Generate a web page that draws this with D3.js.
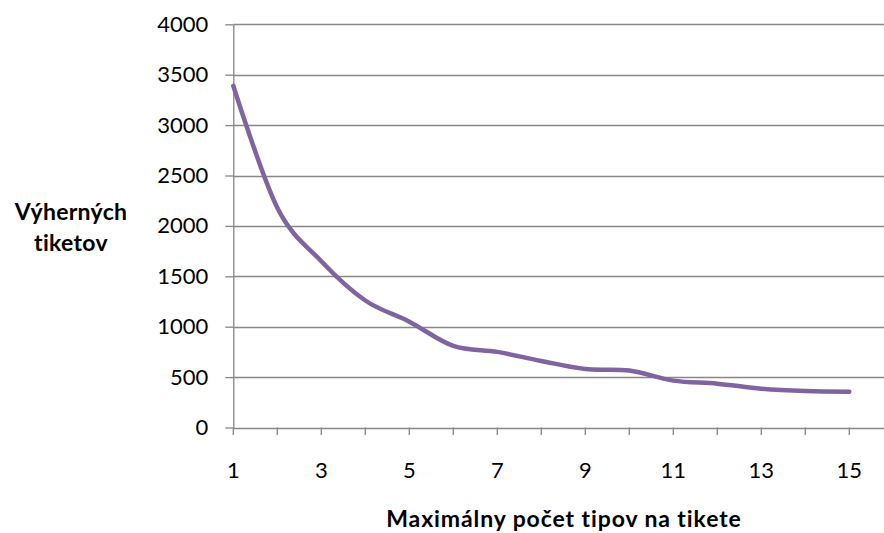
<!DOCTYPE html>
<html>
<head>
<meta charset="utf-8">
<script src="https://cdn.jsdelivr.net/npm/d3@7"></script>
<style>
  html, body { margin: 0; padding: 0; background: #fff; }
  svg { display: block; font-family: Lato, "Open Sans", sans-serif; }
</style>
</head>
<body>
<svg id="chart" width="884" height="533"></svg>
<script>
// Maximum tips per ticket (x) and number of winning tickets (y)
const tips = [1, 2, 3, 4, 5, 6, 7, 8, 9, 10, 11, 12, 13, 14, 15];
const winningTickets = [3390, 2180, 1650, 1260, 1050, 810, 750, 660, 580, 565, 465, 435, 385, 362, 355];
const yTicks = [0, 500, 1000, 1500, 2000, 2500, 3000, 3500, 4000];
const xTickLabels = [1, 3, 5, 7, 9, 11, 13, 15];

const W = 884, H = 533;
const svg = d3.select("#chart");

const x = d3.scaleLinear().domain([1, 15]).range([233.3, 849.3]);
const y = d3.scaleLinear().domain([0, 4000]).range([427.5, 24.3]);
const axisRight = W;
const grey = "#878787";

// horizontal gridlines
svg.append("g")
  .selectAll("line")
  .data(yTicks.filter(d => d > 0))
  .join("line")
  .attr("x1", x(1)).attr("x2", axisRight)
  .attr("y1", d => Math.round(y(d)) + 0.5).attr("y2", d => Math.round(y(d)) + 0.5)
  .attr("stroke", grey).attr("stroke-width", 1.3);

// y axis
const yAxis = d3.axisLeft(y).tickValues(yTicks).tickFormat(d3.format("d"))
  .tickSize(8).tickSizeOuter(0).tickPadding(17);
const gy = svg.append("g").attr("transform", `translate(${x(1)},0)`).call(yAxis);
gy.select(".domain").attr("stroke", grey).attr("stroke-width", 1.3);
gy.selectAll(".tick line").attr("stroke", grey).attr("stroke-width", 1.3);
gy.selectAll(".tick text").attr("fill", "#000").style("font-size", "22px").attr("font-family", "Lato, 'Open Sans', sans-serif");

// x axis: line, a tick for every category, labels on odd values
const xAxisLine = svg.append("g");
xAxisLine.append("line")
  .attr("x1", x(1)).attr("x2", axisRight)
  .attr("y1", Math.round(y(0)) + 0.5).attr("y2", Math.round(y(0)) + 0.5)
  .attr("stroke", grey).attr("stroke-width", 1.3);
xAxisLine.selectAll("line.tk")
  .data(tips)
  .join("line").attr("class", "tk")
  .attr("x1", d => x(d)).attr("x2", d => x(d))
  .attr("y1", y(0)).attr("y2", y(0) + 7.5)
  .attr("stroke", grey).attr("stroke-width", 1.3);
svg.append("g")
  .selectAll("text")
  .data(xTickLabels)
  .join("text")
  .attr("x", d => x(d)).attr("y", 478)
  .attr("text-anchor", "middle")
  .style("font-size", "22px")
  .text(d => d);

// series line
const line = d3.line()
  .x((d, i) => x(tips[i]))
  .y(d => y(d))
  .curve(d3.curveCardinal.tension(0));
svg.append("path")
  .datum(winningTickets)
  .attr("d", line)
  .attr("fill", "none")
  .attr("stroke", "#8064A2")
  .attr("stroke-width", 4.5)
  .attr("stroke-linecap", "round")
  .attr("stroke-linejoin", "round");

// axis titles
svg.append("text")
  .attr("x", 564).attr("y", 527)
  .attr("text-anchor", "middle")
  .style("font-size", "23px").style("font-weight", "bold").style("letter-spacing", "0.9px")
  .text("Maximálny počet tipov na tikete");

const yTitle = svg.append("text")
  .attr("text-anchor", "middle")
  .style("font-size", "23px").style("font-weight", "bold").style("letter-spacing", "0.3px");
yTitle.append("tspan").attr("x", 71).attr("y", 220).text("Výherných");
yTitle.append("tspan").attr("x", 71).attr("y", 251).text("tiketov");
</script>
</body>
</html>
